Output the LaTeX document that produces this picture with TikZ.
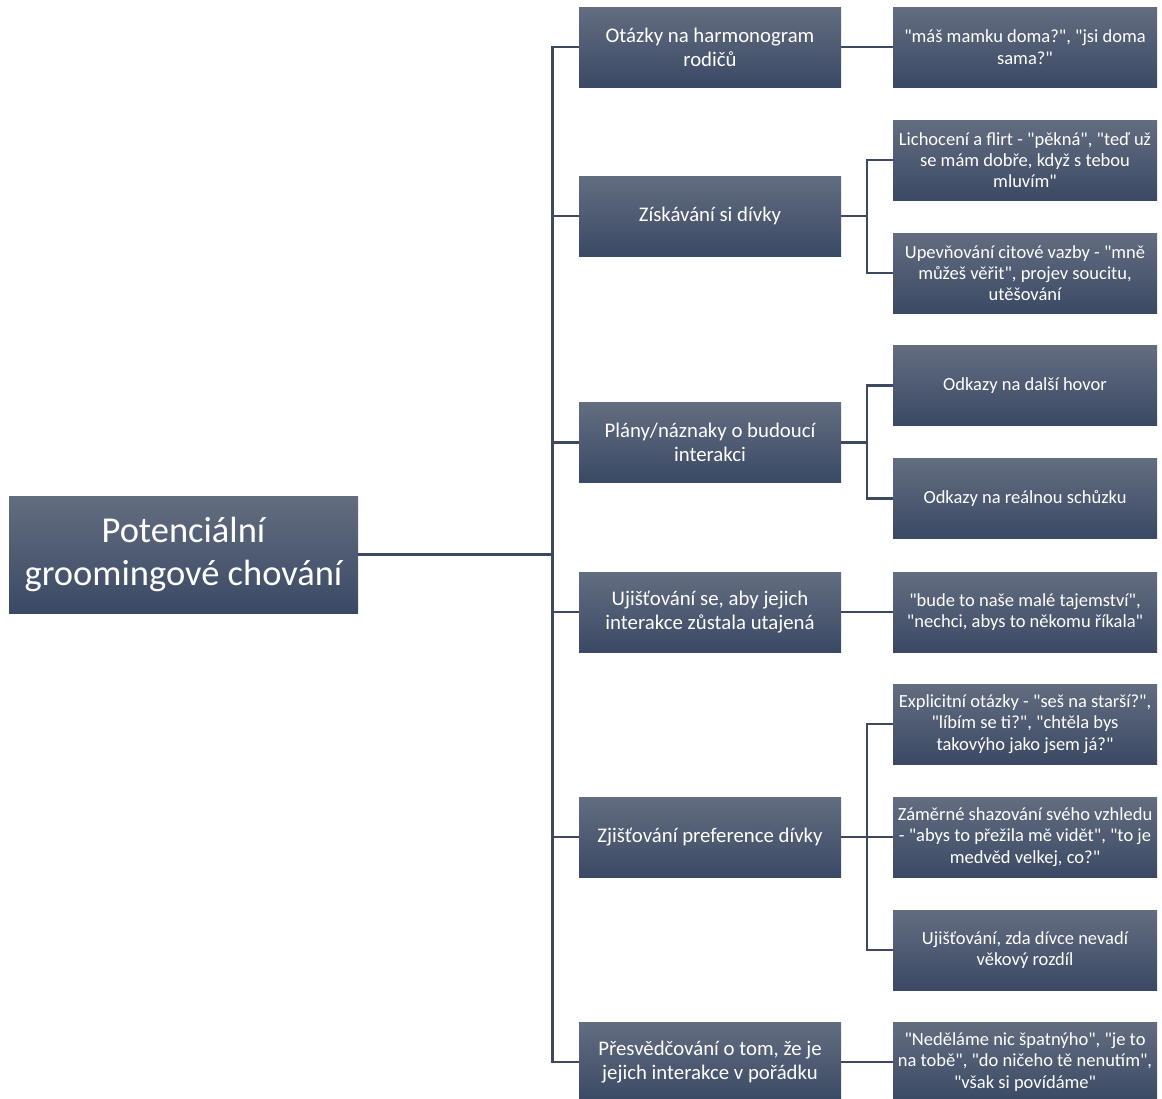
\documentclass[tikz,border=0pt]{standalone}
\usepackage{fontspec}
\setmainfont{Carlito}[Ligatures=TeXOff]
\definecolor{boxtop}{RGB}{99,109,128}
\definecolor{boxbot}{RGB}{58,73,100}
\definecolor{linec}{RGB}{60,73,97}
\tikzset{
  base/.style={rectangle, top color=boxtop, bottom color=boxbot, draw=none,
    text=white, align=center, inner sep=1pt, anchor=center},
  rootbox/.style={base, minimum width=349pt, minimum height=117pt,
    font=\fontsize{36.5}{43}\selectfont},
  lonebox/.style={base, minimum width=262pt, minimum height=80pt,
    font=\fontsize{20.8}{24}\selectfont},
  ltwobox/.style={base, minimum width=264pt, minimum height=80pt,
    font=\fontsize{18.5}{21.3}\selectfont},
  conn/.style={draw=linec, line width=2.8pt, line join=miter}
}
\begin{document}
\begin{tikzpicture}[x=1pt,y=-1pt]
\useasboundingbox (0,0) rectangle (1162,1098);
\fill[white] (0,0) rectangle (1162,1098);
% root
\node[rootbox] (root) at (183.5,554.5) {Potenciální\\groomingové chování};
% level 1
\node[lonebox] (a) at (710,47) {Otázky na harmonogram\\rodičů};
\node[lonebox] (b) at (710,216) {Získávání si dívky};
\node[lonebox] (c) at (710,442.5) {Plány/náznaky o budoucí\\interakci};
\node[lonebox] (d) at (710,612) {Ujišťování se, aby jejich\\interakce zůstala utajená};
\node[lonebox] (e) at (710,837) {Zjišťování preference dívky};
\node[lonebox] (f) at (710,1062) {Přesvědčování o tom, že je\\jejich interakce v pořádku};
% level 2
\node[ltwobox] (a1) at (1025,47) {"máš mamku doma?", "jsi doma\\sama?"};
\node[ltwobox] (b1) at (1025,160) {Lichocení a flirt - "pěkná", "teď už\\se mám dobře, když s tebou\\mluvím"};
\node[ltwobox] (b2) at (1025,273) {Upevňování citové vazby - "mně\\můžeš věřit", projev soucitu,\\utěšování};
\node[ltwobox] (c1) at (1025,385.5) {Odkazy na další hovor};
\node[ltwobox] (c2) at (1025,498.5) {Odkazy na reálnou schůzku};
\node[ltwobox] (d1) at (1025,612) {"bude to naše malé tajemství",\\"nechci, abys to někomu říkala"};
\node[ltwobox] (e1) at (1025,724) {Explicitní otázky - "seš na starší?",\\"líbím se ti?", "chtěla bys\\takovýho jako jsem já?"};
\node[ltwobox] (e2) at (1025,837) {Záměrné shazování svého vzhledu\\- "abys to přežila mě vidět", "to je\\medvěd velkej, co?"};
\node[ltwobox] (e3) at (1025,950) {Ujišťování, zda dívce nevadí\\věkový rozdíl};
\node[ltwobox] (f1) at (1025,1062) {"Neděláme nic špatnýho", "je to\\na tobě", "do ničeho tě nenutím",\\"však si povídáme"};
% junctions
\coordinate (sp) at (552.5,554.5);
\coordinate (jb) at (867,216);
\coordinate (jc) at (867,442.5);
\coordinate (je) at (867,837);
% connectors
\draw[conn] (root.east) -- (sp);
\foreach \n in {a,b,c,d,e,f} { \draw[conn] (sp) |- (\n.west); }
\draw[conn] (a.east) -- (a1.west);
\draw[conn] (b.east) -- (jb);
\draw[conn] (jb) |- (b1.west);
\draw[conn] (jb) |- (b2.west);
\draw[conn] (c.east) -- (jc);
\draw[conn] (jc) |- (c1.west);
\draw[conn] (jc) |- (c2.west);
\draw[conn] (d.east) -- (d1.west);
\draw[conn] (e.east) -- (je);
\draw[conn] (je) |- (e1.west);
\draw[conn] (je) |- (e2.west);
\draw[conn] (je) |- (e3.west);
\draw[conn] (f.east) -- (f1.west);
\end{tikzpicture}
\end{document}
